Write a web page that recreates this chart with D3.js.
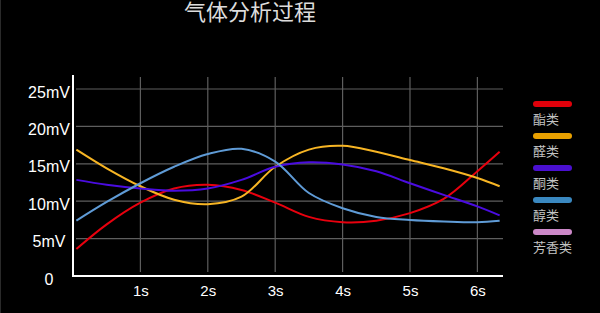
<!DOCTYPE html>
<html>
<head>
<meta charset="utf-8">
<script src="https://cdn.jsdelivr.net/npm/d3@7"></script>
<style>
  html, body { margin: 0; padding: 0; background: #000; }
  svg { display: block; font-family: "Noto Sans CJK SC", "Liberation Sans", sans-serif; }
</style>
</head>
<body>
<svg id="chart"></svg>
<script>
// chart data
let times = [0.05, 0.5, 1, 1.5, 2, 2.5, 3, 3.5, 4, 4.5, 5, 5.5, 6, 6.33];
let esters    = [3.6, 6.9, 9.8, 11.7, 12.2, 11.5, 9.8, 7.9, 7.2, 7.4, 8.4, 10.3, 14.0, 16.6];
let aldehydes = [16.9, 14.4, 12.0, 10.2, 9.6, 10.6, 14.6, 16.9, 17.4, 16.6, 15.5, 14.4, 13.1, 12.0];
let ketones   = [12.85, 12.2, 11.7, 11.4, 11.7, 12.85, 14.6, 15.2, 14.9, 14.0, 12.4, 10.85, 9.3, 8.1];
let alcohols  = [7.4, 9.9, 12.4, 14.6, 16.3, 17.0, 15.3, 11.1, 9.06, 7.9, 7.5, 7.3, 7.2, 7.4];
let aromatics = [];

let seriesNames = ['酯类', '醛类', '酮类', '醇类', '芳香类'];
let seriesColors = ['#e8000e', '#f7b524', '#4a0ce0', '#5f9bd6', '#d38ccf'];
let legendColors = ['#e0000a', '#e8a000', '#4a10d0', '#3a88c0', '#cc88c8'];
let seriesValues = [esters, aldehydes, ketones, alcohols, aromatics];

let xTicks = [1, 2, 3, 4, 5, 6];
let yTicks = [0, 5, 10, 15, 20, 25];

let width = 600;
let height = 313;
let plotLeft = 73, plotRight = 503, plotTop = 75, plotBottom = 276;

let svg = d3.select('#chart').attr('width', width).attr('height', height);

svg.append('rect').attr('width', width).attr('height', height).attr('fill', '#000');
svg.append('line').attr('x1', 0.5).attr('x2', 0.5).attr('y1', 0).attr('y2', height)
    .attr('stroke', '#2a2a2a');

let xScale = d3.scaleLinear().domain([0, 6.38]).range([plotLeft, plotRight]);
let yScale = d3.scaleLinear().domain([0, 25]).range([plotBottom, 89]);

// title (sits right against the top edge, as in the reference)
svg.append('text')
    .attr('x', 250).attr('y', 20)
    .attr('text-anchor', 'middle')
    .attr('fill', '#dcdcdc')
    .attr('font-size', 22)
    .text('气体分析过程');

// grid
svg.append('g').selectAll('line')
    .data(yTicks.filter(d => d > 0))
    .enter().append('line')
    .attr('x1', plotLeft + 3).attr('x2', plotRight)
    .attr('y1', d => yScale(d)).attr('y2', d => yScale(d))
    .attr('stroke', '#5e5e5e').attr('stroke-width', 1.2);

svg.append('g').selectAll('line')
    .data(xTicks)
    .enter().append('line')
    .attr('x1', d => xScale(d)).attr('x2', d => xScale(d))
    .attr('y1', 77).attr('y2', 272)
    .attr('stroke', '#5e5e5e').attr('stroke-width', 1.2);

// axes
let xAxis = d3.axisBottom(xScale).tickValues(xTicks).tickSize(0).tickPadding(9)
    .tickFormat(d => d + 's');
let yAxis = d3.axisLeft(yScale).tickValues(yTicks).tickSize(0)
    .tickFormat(d => d === 0 ? '0' : d + 'mV');

let gx = svg.append('g').attr('transform', 'translate(0,' + plotBottom + ')').call(xAxis);
gx.select('.domain').remove();
gx.selectAll('text').attr('fill', '#fff').attr('font-size', 15)
    .attr('font-family', '"Liberation Sans", sans-serif');

let gy = svg.append('g').call(yAxis);
gy.select('.domain').remove();
gy.selectAll('text')
    .attr('x', 49).attr('dy', '0.5em')
    .attr('text-anchor', 'middle')
    .attr('fill', '#fff').attr('font-size', 16)
    .attr('font-family', '"Liberation Sans", sans-serif');

svg.append('line').attr('x1', plotLeft).attr('x2', plotLeft).attr('y1', plotTop).attr('y2', plotBottom + 1)
    .attr('stroke', '#fff').attr('stroke-width', 2);
svg.append('line').attr('x1', plotLeft).attr('x2', plotRight).attr('y1', plotBottom).attr('y2', plotBottom)
    .attr('stroke', '#fff').attr('stroke-width', 2);

// lines
let line = d3.line()
    .x((d, i) => xScale(times[i]))
    .y(d => yScale(d))
    .curve(d3.curveCatmullRom.alpha(0.5));

svg.append('g').selectAll('path')
    .data(seriesValues.filter(v => v.length))
    .enter().append('path')
    .attr('d', d => line(d))
    .attr('fill', 'none')
    .attr('stroke', (d, i) => seriesColors[i])
    .attr('stroke-width', 2);

// legend
let legend = svg.append('g').selectAll('g')
    .data(seriesNames)
    .enter().append('g')
    .attr('transform', (d, i) => 'translate(533,' + (101 + i * 32) + ')');

legend.append('rect')
    .attr('width', 39).attr('height', 6).attr('rx', 3)
    .attr('fill', (d, i) => legendColors[i]);

legend.append('text')
    .attr('x', 0).attr('y', 23)
    .attr('fill', '#c4c4c4').attr('font-size', 13)
    .text(d => d);
</script>
</body>
</html>
